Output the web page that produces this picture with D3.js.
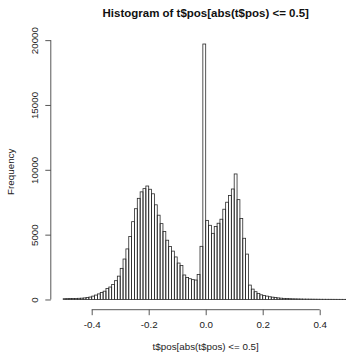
<!DOCTYPE html>
<html>
<head>
<meta charset="utf-8">
<script src="https://cdn.jsdelivr.net/npm/d3@7"></script>
<style>
  html, body { margin: 0; padding: 0; background: #fff; }
  svg { display: block; font-family: "Liberation Sans", Arial, sans-serif; }
</style>
</head>
<body>
<div id="chart"></div>
<script>
// ---- data ----
const titleText = "Histogram of t$pos[abs(t$pos) <= 0.5]";
const xLabel = "t$pos[abs(t$pos) <= 0.5]";
const yLabel = "Frequency";
const breakStart = -0.5;
const breakWidth = 0.01;
const counts = [
  60, 65, 70, 75, 80, 90, 100, 120, 150, 190,
  260, 340, 430, 540, 640, 840, 960, 1150, 1450, 1800,
  2400, 3120, 3900, 4850, 6000, 7000, 7800, 8300, 8550, 8750,
  8500, 8150, 7300, 6500, 5850, 5250, 4570, 4080, 3730, 3280,
  2810, 2620, 1890, 1700, 1600, 1530, 1500, 1935, 4100, 19700,
  6100, 5720, 5100, 5630, 5880, 6190, 6960, 7500, 8020, 8520,
  9680, 7700, 6250, 4720, 3500, 1110, 800, 600, 470, 360,
  310, 260, 210, 180, 150, 120, 100, 85, 70, 60,
  50, 45, 40, 35, 30, 28, 25, 22, 20, 18,
  16, 15, 14, 13, 12, 11, 10, 10, 9, 9
];
const xTicks = [-0.4, -0.2, 0.0, 0.2, 0.4];
const xTickLabels = ["-0.4", "-0.2", "0.0", "0.2", "0.4"];
const yTicks = [0, 5000, 10000, 15000, 20000];
const yTickLabels = ["0", "5000", "10000", "15000", "20000"];

// ---- layout ----
const W = 346, H = 355;
const plot = { left: 51.8, right: 359.6, top: 33.8, bottom: 309.7 };

const bins = counts.map((c, i) => ({
  x0: breakStart + i * breakWidth,
  x1: breakStart + (i + 1) * breakWidth,
  count: c
}));
const xMin = bins[0].x0, xMax = bins[bins.length - 1].x1;
const xPad = (xMax - xMin) * 0.04;
const M = d3.max(counts);

const x = d3.scaleLinear().domain([xMin - xPad, xMax + xPad]).range([plot.left, plot.right]);
const y = d3.scaleLinear().domain([-0.04 * M, 1.04 * M]).range([plot.bottom, plot.top]);

const svg = d3.select("#chart").append("svg")
  .attr("width", W).attr("height", H)
  .attr("viewBox", `0 0 ${W} ${H}`);

// bars
svg.append("g")
  .selectAll("rect")
  .data(bins)
  .join("rect")
  .attr("x", d => x(d.x0))
  .attr("y", d => y(d.count))
  .attr("width", d => x(d.x1) - x(d.x0))
  .attr("height", d => y(0) - y(d.count))
  .attr("fill", "none")
  .attr("stroke", "#2a2a2a")
  .attr("stroke-width", 0.8);

// x axis (R style)
const xAxis = d3.axisBottom(x)
  .tickValues(xTicks)
  .tickFormat((d, i) => xTickLabels[i])
  .tickSize(5.5)
  .tickSizeOuter(0)
  .tickPadding(6);
const gx = svg.append("g")
  .attr("transform", `translate(0,${plot.bottom})`)
  .call(xAxis);
gx.select(".domain").remove();
gx.append("line")
  .attr("x1", x(xTicks[0])).attr("x2", x(xTicks[xTicks.length - 1]))
  .attr("y1", 0).attr("y2", 0)
  .attr("stroke", "#444").attr("stroke-width", 0.9);
gx.selectAll(".tick line").attr("stroke", "#444").attr("stroke-width", 0.9);
gx.selectAll(".tick text")
  .attr("font-size", 9.8)
  .attr("fill", "#222")
  .attr("font-family", "Liberation Sans, Arial, sans-serif");

// y axis (R style with rotated labels)
const yAxis = d3.axisLeft(y)
  .tickValues(yTicks)
  .tickFormat((d, i) => yTickLabels[i])
  .tickSize(5.5)
  .tickSizeOuter(0);
const gy = svg.append("g")
  .attr("transform", `translate(${plot.left - 1},0)`)
  .call(yAxis);
gy.select(".domain").remove();
gy.append("line")
  .attr("x1", 0).attr("x2", 0)
  .attr("y1", y(yTicks[0])).attr("y2", y(yTicks[yTicks.length - 1]))
  .attr("stroke", "#444").attr("stroke-width", 0.9);
gy.selectAll(".tick line").attr("stroke", "#444").attr("stroke-width", 0.9);
gy.selectAll(".tick text")
  .attr("font-size", 9.8)
  .attr("fill", "#222")
  .attr("font-family", "Liberation Sans, Arial, sans-serif")
  .attr("x", null).attr("dy", null)
  .attr("text-anchor", "middle")
  .attr("transform", "translate(-12.5,0) rotate(-90)");

// title
svg.append("text")
  .attr("x", (plot.left + plot.right) / 2)
  .attr("y", 16.8)
  .attr("text-anchor", "middle")
  .attr("font-size", 11.5)
  .attr("font-weight", "bold")
  .attr("fill", "#111")
  .text(titleText);

// x label
svg.append("text")
  .attr("x", (plot.left + plot.right) / 2)
  .attr("y", 349.5)
  .attr("text-anchor", "middle")
  .attr("font-size", 9.8)
  .attr("fill", "#222")
  .text(xLabel);

// y label
svg.append("text")
  .attr("transform", `translate(13.5,${(plot.top + plot.bottom) / 2}) rotate(-90)`)
  .attr("text-anchor", "middle")
  .attr("font-size", 9.8)
  .attr("fill", "#222")
  .text(yLabel);
</script>
</body>
</html>
